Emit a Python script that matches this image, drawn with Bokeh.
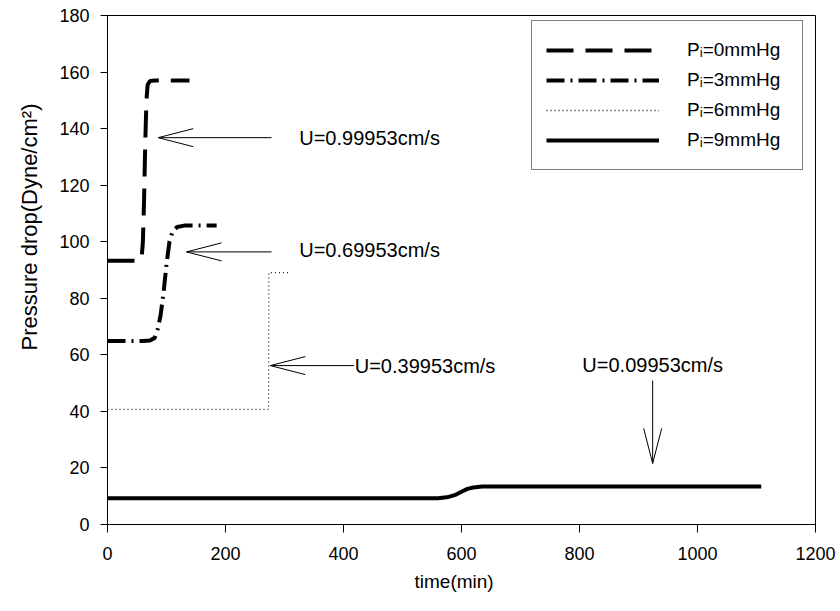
from bokeh.plotting import figure
from bokeh.models import Range1d, Legend, LegendItem, FixedTicker, Title
from bokeh.core.properties import value
from bokeh.embed import file_html
from bokeh.resources import INLINE

# ---- data -------------------------------------------------------------
t_p0 = [0, 50, 56, 58, 60, 62, 64, 66, 68, 72, 80, 139]
v_p0 = [93.3, 93.3, 93.5, 94.5, 100, 115, 135, 150, 155.5, 156.8, 157, 157]

t_p3 = [0, 60, 72, 80, 85, 90, 95, 100, 105, 110, 118, 130, 185]
v_p3 = [64.9, 64.9, 65.1, 66, 69, 74, 82, 92, 100, 103.5, 105.2, 105.7, 105.7]

t_p6 = [0, 273, 273.5, 308]
v_p6 = [40.7, 40.7, 89.1, 89.1]

t_p9 = [0, 560, 575, 590, 600, 610, 620, 635, 650, 1108]
v_p9 = [9.3, 9.3, 9.6, 10.5, 11.6, 12.6, 13.1, 13.4, 13.45, 13.45]

series_labels = ["P\u1d62=0mmHg", "P\u1d62=3mmHg", "P\u1d62=6mmHg", "P\u1d62=9mmHg"]

x_ticks = [0, 200, 400, 600, 800, 1000, 1200]
y_ticks = [0, 20, 40, 60, 80, 100, 120, 140, 160, 180]

x_title = "time(min)"
y_title = "Pressure drop(Dyne/cm\u00b2)"

# velocity annotations: arrow tail, arrow tip, label anchor
arrow_tail_t = [278, 278, 418, 924]
arrow_tail_v = [136.8, 96.4, 56.2, 50.9]
arrow_tip_t = [86, 134, 276, 924]
arrow_tip_v = [136.8, 96.4, 56.2, 21.6]
label_t = [325, 325, 419, 924]
label_v = [136.8, 96.9, 56.2, 56.4]
label_text = ["U=0.99953cm/s", "U=0.69953cm/s", "U=0.39953cm/s", "U=0.09953cm/s"]
label_align = ["left", "left", "left", "center"]

# ---- figure -----------------------------------------------------------
X0, X1, Y0, Y1 = 0, 1200, 0, 180
FRAME_W, FRAME_H = 708, 509
LEFT, TOP = 106, 15
FONT = "Liberation Sans"

p = figure(width=840, height=611, output_backend="svg", toolbar_location=None,
           x_range=Range1d(X0, X1), y_range=Range1d(Y0, Y1),
           min_border_left=LEFT, min_border_right=840 - LEFT - FRAME_W,
           min_border_top=TOP, min_border_bottom=611 - TOP - FRAME_H)
p.frame_width = FRAME_W
p.frame_height = FRAME_H
p.background_fill_color = "white"
p.border_fill_color = "white"
p.outline_line_color = "black"
p.outline_line_width = 1
p.xgrid.visible = False
p.ygrid.visible = False

p.xaxis.ticker = FixedTicker(ticks=x_ticks)
p.yaxis.ticker = FixedTicker(ticks=y_ticks)
for ax in (p.xaxis, p.yaxis):
    ax.axis_line_color = "black"
    ax.major_tick_line_color = "black"
    ax.minor_tick_line_color = None
    ax.major_tick_in = 0
    ax.major_label_text_font = FONT
    ax.major_label_text_font_size = "18px"
    ax.major_label_text_color = "black"
p.xaxis.major_tick_out = 8
p.yaxis.major_tick_out = 7
p.xaxis.major_label_standoff = 14
p.yaxis.major_label_standoff = 11

# axis titles as side titles, anchored at their start and shifted along the axis
p.add_layout(Title(text=x_title, align="left", offset=307, standoff=13,
                   text_font=FONT, text_font_size="19px",
                   text_font_style="normal", text_color="black"), "below")
p.add_layout(Title(text=y_title, align="left", offset=174, standoff=29,
                   text_font=FONT, text_font_size="22px",
                   text_font_style="normal", text_color="black"), "left")

# ---- series -----------------------------------------------------------
r0 = p.line(t_p0, v_p0, line_color="black", line_width=4, line_dash="27 12")
r3 = p.line(t_p3, v_p3, line_color="black", line_width=4, line_dash="18 6 2 6")
r6 = p.line(t_p6, v_p6, line_color="#222222", line_width=1.3, line_dash="1 3")
r9 = p.line(t_p9, v_p9, line_color="black", line_width=4)

# ---- annotation arrows (open V heads) ---------------------------------
px_x = FRAME_W / (X1 - X0)
px_y = FRAME_H / (Y1 - Y0)
HEAD_LEN, HEAD_HALF = 35, 9

p.segment(arrow_tail_t, arrow_tail_v, arrow_tip_t, arrow_tip_v,
          line_color="black", line_width=1)

hx0, hy0, hx1, hy1 = [], [], [], []
for tt, tv, ht, hv in zip(arrow_tail_t, arrow_tail_v, arrow_tip_t, arrow_tip_v):
    dx, dy = (tt - ht) * px_x, (tv - hv) * px_y
    n = (dx * dx + dy * dy) ** 0.5
    ux, uy = dx / n, dy / n
    for s in (1, -1):
        bx = ux * HEAD_LEN - s * uy * HEAD_HALF
        by = uy * HEAD_LEN + s * ux * HEAD_HALF
        hx0.append(ht)
        hy0.append(hv)
        hx1.append(ht + bx / px_x)
        hy1.append(hv + by / px_y)
p.segment(hx0, hy0, hx1, hy1, line_color="black", line_width=1)

p.text(x=label_t, y=label_v, text=label_text, text_align=label_align,
       text_baseline="middle", text_font=value(FONT), text_font_size="20px",
       text_color="black")

# ---- legend -----------------------------------------------------------
legend = Legend(items=[LegendItem(label=lbl, renderers=[r])
                       for lbl, r in zip(series_labels, [r0, r3, r6, r9])],
                location=(424, 354), orientation="vertical",
                glyph_width=113, glyph_height=30, label_height=30,
                label_width=101, label_standoff=28, spacing=0, padding=14,
                margin=0, border_line_color="black", border_line_width=1,
                background_fill_color="white", background_fill_alpha=1,
                label_text_font=FONT, label_text_font_size="19px",
                label_text_color="black")
p.add_layout(legend, "center")

open("out.html", "w").write(file_html(p, INLINE))
